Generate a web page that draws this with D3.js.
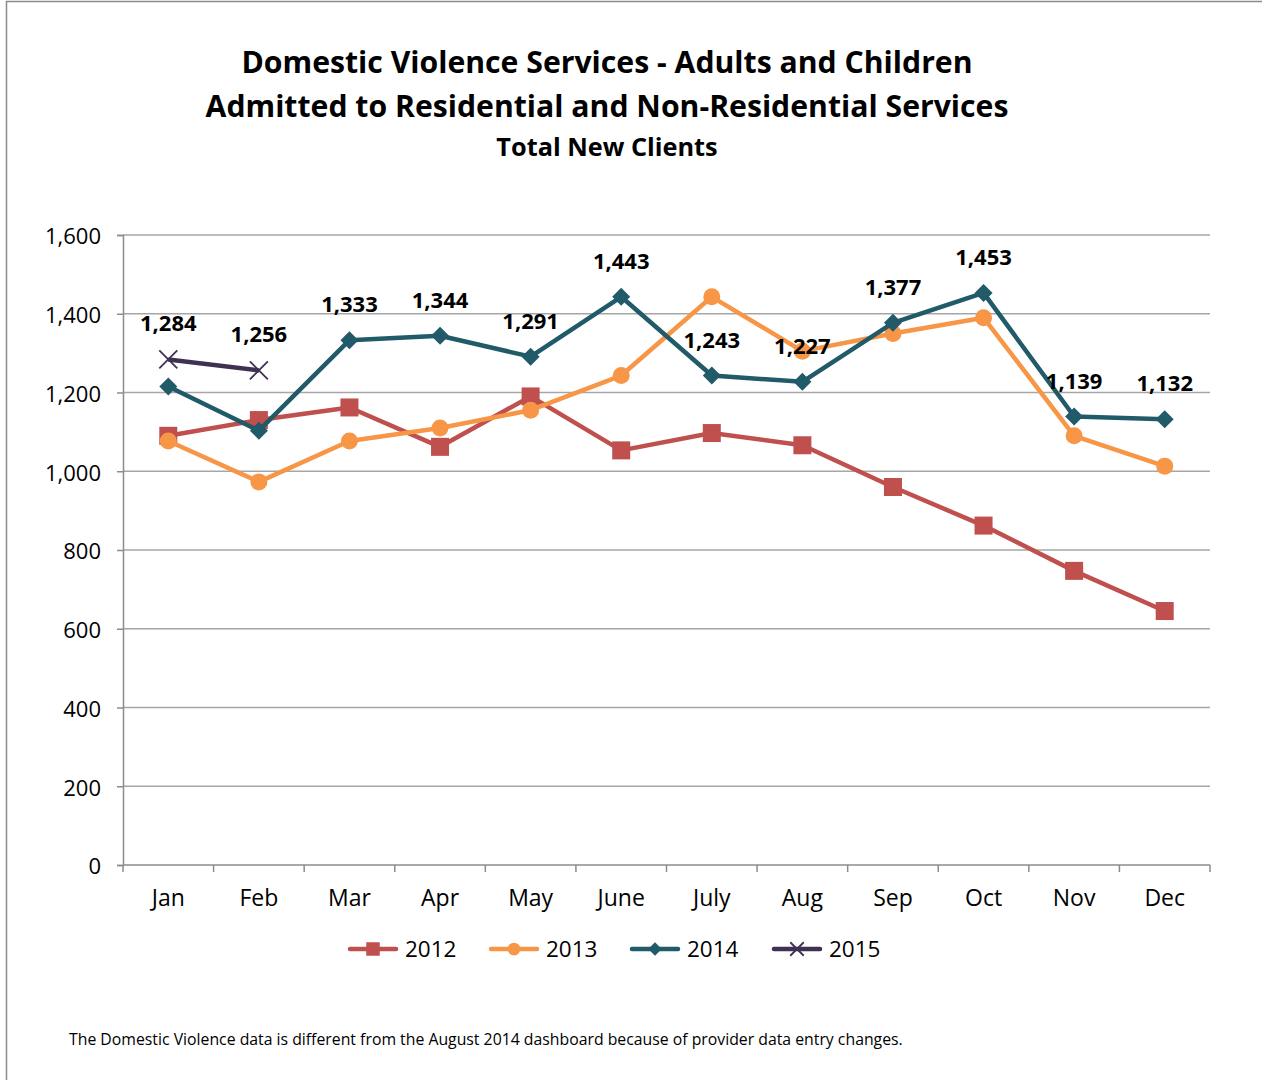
<!DOCTYPE html>
<html><head><meta charset="utf-8">
<script src="https://cdn.jsdelivr.net/npm/d3@7"></script>
<style>body{margin:0;background:#fff}svg{display:block;font-family:"Open Sans",sans-serif}</style>
</head><body><svg id="c" width="1262" height="1080"></svg>
<script>
const months = ["Jan","Feb","Mar","Apr","May","June","July","Aug","Sep","Oct","Nov","Dec"];
const v2012 = [1090,1130,1162,1062,1190,1053,1097,1066,960,862,747,645];
const v2013 = [1077,973,1077,1110,1155,1243,1443,1305,1350,1390,1090,1013];
const v2014 = [1215,1103,1333,1344,1291,1443,1243,1227,1377,1453,1139,1132];
const v2015 = [1284,1256];
const seriesNames = ["2012","2013","2014","2015"];
const yTicks = [0,200,400,600,800,1000,1200,1400,1600];
const labels2014From = 2; // 2014 labelled from Mar onward
const titleLines = ["Domestic Violence Services - Adults and Children","Admitted to Residential and Non-Residential Services"];
const subTitle = "Total New Clients";
const footnote = "The Domestic Violence data is different from the August 2014 dashboard because of provider data entry changes.";

const svg = d3.select("#c");
const colors = {"2012":"#C0504D","2013":"#F79646","2014":"#215A68","2015":"#403152"};
const markers = {"2012":"square","2013":"circle","2014":"diamond","2015":"x"};

svg.append("path").attr("d","M6.5,1080 L6.5,1.5 L1262,1.5").attr("fill","none").attr("stroke","#8c8c8c").attr("stroke-width",1.5);

const x = d3.scaleBand().domain(months).range([123,1210]);
const y = d3.scaleLinear().domain([0,1600]).range([865,235]);

svg.append("text").attr("x",607).attr("y",73).attr("text-anchor","middle").attr("font-weight","bold").attr("font-size",30.2).text(titleLines[0]);
svg.append("text").attr("x",607).attr("y",117).attr("text-anchor","middle").attr("font-weight","bold").attr("font-size",30.2).text(titleLines[1]);
svg.append("text").attr("x",607).attr("y",156).attr("text-anchor","middle").attr("font-weight","bold").attr("font-size",25.3).text(subTitle);

svg.append("g").selectAll("line").data(yTicks.slice(1)).join("line")
  .attr("x1",123).attr("x2",1210).attr("y1",d=>y(d)).attr("y2",d=>y(d))
  .attr("stroke","#a6a6a6").attr("stroke-width",1.5);

const ya = svg.append("g").attr("transform","translate(123,0)").call(d3.axisLeft(y).tickValues(yTicks).tickFormat(d3.format(",")).tickSize(6).tickPadding(16));
ya.select(".domain").attr("stroke","#8c8c8c").attr("stroke-width",1.5);
ya.selectAll(".tick line").attr("stroke","#8c8c8c").attr("stroke-width",1.5);
ya.selectAll("text").attr("font-size",22).attr("font-family","Open Sans").attr("fill","#000").attr("dy","0.4em");

const xa = svg.append("g").attr("transform","translate(0,865)").call(d3.axisBottom(x).tickSize(0).tickPadding(25));
xa.select(".domain").attr("stroke","#8c8c8c").attr("stroke-width",1.5).attr("d","M123,0H1210");
xa.selectAll("text").attr("font-size",23).attr("font-family","Open Sans").attr("fill","#000");
const bounds = months.map((m,i)=>x(m)).concat([1210]);
svg.append("g").selectAll("line").data(bounds).join("line")
  .attr("x1",d=>d).attr("x2",d=>d).attr("y1",865).attr("y2",872).attr("stroke","#8c8c8c").attr("stroke-width",1.5);

const cx = m => x(m) + x.bandwidth()/2;
function drawMarker(g, type, px, py, col, s){
  if(type==="square") g.append("rect").attr("x",px-9*s).attr("y",py-9*s).attr("width",18*s).attr("height",18*s).attr("fill",col);
  else if(type==="circle") g.append("circle").attr("cx",px).attr("cy",py).attr("r",8.5*s).attr("fill",col);
  else if(type==="diamond") g.append("path").attr("d",`M${px},${py-9*s}L${px+9*s},${py}L${px},${py+9*s}L${px-9*s},${py}Z`).attr("fill",col);
  else g.append("path").attr("d",`M${px-9*s},${py-9*s}L${px+9*s},${py+9*s}M${px-9*s},${py+9*s}L${px+9*s},${py-9*s}`).attr("stroke",col).attr("stroke-width",1.8).attr("fill","none");
}

const allData = {"2012":v2012,"2013":v2013,"2014":v2014,"2015":v2015};
const line = d3.line().x(d=>cx(d.m)).y(d=>y(d.v));
seriesNames.forEach(name=>{
  const pts = allData[name].map((v,i)=>({m:months[i],v}));
  const g = svg.append("g");
  g.append("path").datum(pts).attr("d",line).attr("fill","none").attr("stroke",colors[name]).attr("stroke-width",4.5).attr("stroke-linejoin","round");
  pts.forEach(p=>drawMarker(g,markers[name],cx(p.m),y(p.v),colors[name],1));
});

const fmt = d3.format(",");
const lab = svg.append("g").attr("font-weight","bold").attr("font-size",22).attr("text-anchor","middle");
v2014.forEach((v,i)=>{ if(i>=labels2014From) lab.append("text").attr("x",cx(months[i])).attr("y",y(v)-28).text(fmt(v)); });
v2015.forEach((v,i)=>{ lab.append("text").attr("x",cx(months[i])).attr("y",y(v)-28).text(fmt(v)); });

const legX = [350,491,632,774];
seriesNames.forEach((name,i)=>{
  const g = svg.append("g");
  const lx = legX[i], ly = 949;
  g.append("line").attr("x1",lx).attr("x2",lx+46).attr("y1",ly).attr("y2",ly).attr("stroke",colors[name]).attr("stroke-width",4.5).attr("stroke-linecap","round");
  drawMarker(g,markers[name],lx+23,ly,colors[name],0.75);
  g.append("text").attr("x",lx+55).attr("y",ly+8).attr("font-size",22.5).text(name);
});

svg.append("text").attr("x",69).attr("y",1045).attr("font-size",15.8).text(footnote);
</script></body></html>
